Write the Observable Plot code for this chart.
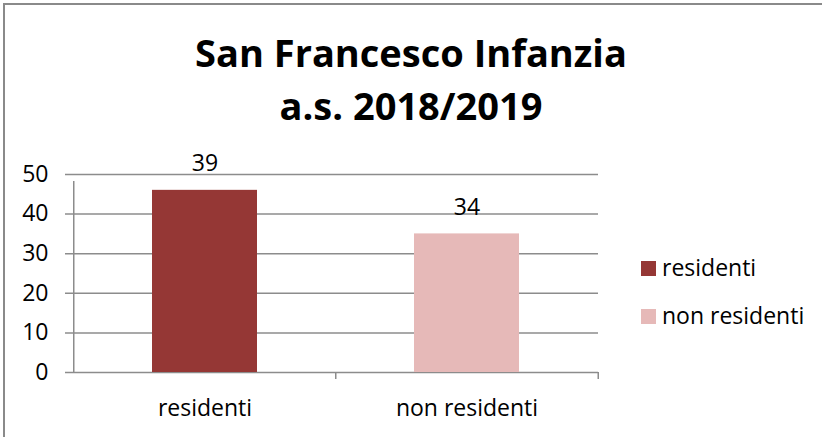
<!DOCTYPE html>
<html>
<head>
<meta charset="utf-8">
<script src="https://cdn.jsdelivr.net/npm/d3@7"></script>
<script src="https://cdn.jsdelivr.net/npm/@observablehq/plot@0.6"></script>
<style>
  html, body { margin: 0; padding: 0; background: #fff; }
  body { width: 822px; height: 437px; overflow: hidden; position: relative; font-family: "Open Sans", sans-serif; }
  #border { position: absolute; left: 3px; top: 3px; width: 900px; height: 500px; border-left: 2px solid #8a8a8a; border-top: 2px solid #8a8a8a; }
  #title { position: absolute; left: 0; top: 0; width: 822px; padding-top: 26px; text-align: center; font-weight: 700; font-size: 38px; line-height: 53px; color: #000; }
  #chart { position: absolute; left: 0; top: 110px; }
  .lg-sw { position: absolute; width: 15px; height: 15px; }
  .lg-tx { position: absolute; font-size: 23px; line-height: 32px; color: #000; white-space: nowrap; }
</style>
</head>
<body>
<div id="border"></div>
<div id="title"></div>
<div id="chart"></div>
<div id="legend"></div>
<script>
const titleLines = ["San Francesco Infanzia", "a.s. 2018/2019"];
const categories = ["residenti", "non residenti"];
const barValues = [46, 35];
const dataLabels = ["39", "34"];
const colors = ["#953735", "#E6B9B8"];
const yTicks = [0, 10, 20, 30, 40, 50];

document.getElementById("title").innerHTML = titleLines.map(t => `<div>${t}</div>`).join("");

const data = categories.map((c, i) => ({cat: c, value: barValues[i], label: dataLabels[i]}));

const W = 822, mL = 73, mR = 224;
const step = (W - mL - mR) / categories.length;
const gridColor = "#8c8c8c";

const plot = Plot.plot({
  width: W,
  height: 327,
  marginLeft: mL,
  marginRight: mR,
  marginTop: 64,
  marginBottom: 65,
  style: {fontFamily: "'Open Sans', sans-serif", fontSize: "23px", color: "#000", background: "transparent"},
  x: {type: "band", domain: categories, paddingInner: 0.6, paddingOuter: 0.3, label: null},
  y: {domain: [0, 50], label: null},
  color: {domain: categories, range: colors},
  marks: [
    Plot.ruleY(yTicks, {y: d => d, stroke: gridColor, strokeWidth: 1.5, insetLeft: -8}),
    Plot.barY(data, {x: "cat", y: "value", fill: "cat"}),
    // y axis line
    Plot.ruleX([categories[0]], {x: d => d, dx: -step / 2, y1: 0, y2: 50, stroke: gridColor, strokeWidth: 1.5, insetBottom: -7}),
    // category boundary ticks
    Plot.ruleX(categories.slice(1), {x: d => d, dx: -step / 2, y1: 0, y2: 0, stroke: gridColor, strokeWidth: 1.5, insetBottom: -7}),
    Plot.ruleX([categories[categories.length - 1]], {x: d => d, dx: step / 2, y1: 0, y2: 0, stroke: gridColor, strokeWidth: 1.5, insetBottom: -7}),
    Plot.text(data, {x: "cat", y: "value", text: "label", dy: -19, lineAnchor: "bottom", fill: "#000", fontSize: 23}),
    Plot.axisY({ticks: yTicks, tickSize: 0, tickPadding: 25, fontSize: 23, label: null}),
    Plot.axisX({tickSize: 0, tickPadding: 27, fontSize: 23, label: null})
  ]
});
document.getElementById("chart").appendChild(plot);

const legend = document.getElementById("legend");
const legendTop = 261, legendGap = 48;
categories.forEach((c, i) => {
  const sw = document.createElement("div");
  sw.className = "lg-sw";
  sw.style.left = "641px";
  sw.style.top = (legendTop + i * legendGap) + "px";
  sw.style.background = colors[i];
  legend.appendChild(sw);
  const tx = document.createElement("div");
  tx.className = "lg-tx";
  tx.style.left = "662px";
  tx.style.top = (legendTop - 10 + i * legendGap) + "px";
  tx.textContent = c;
  legend.appendChild(tx);
});
</script>
</body>
</html>
